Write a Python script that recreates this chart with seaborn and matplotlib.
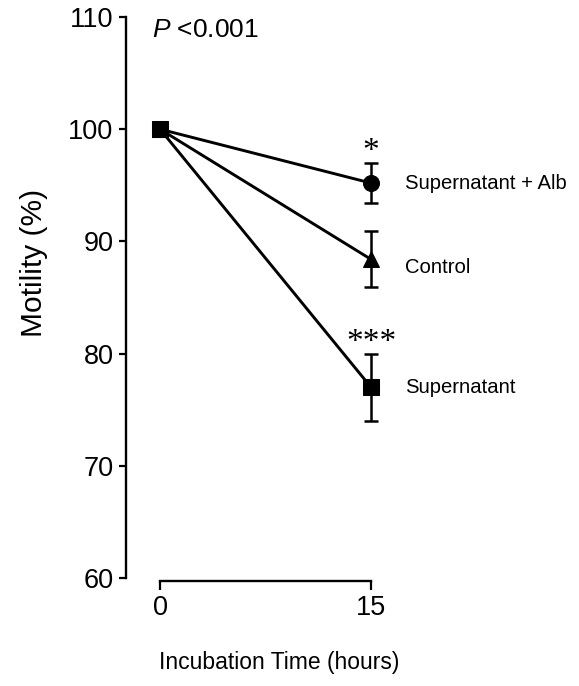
import pandas as pd
import matplotlib
matplotlib.use("Agg")
import matplotlib.pyplot as plt
import seaborn as sns

sns.set_theme(style="ticks")
plt.rcParams['font.family'] = ['Liberation Sans', 'DejaVu Sans']
plt.rcParams['mathtext.fontset'] = 'custom'
plt.rcParams['mathtext.rm'] = 'Liberation Sans'
plt.rcParams['mathtext.it'] = 'Liberation Sans:italic'
plt.rcParams['text.color'] = 'black'
plt.rcParams['xtick.color'] = 'black'
plt.rcParams['ytick.color'] = 'black'

# Dados
tempos = [0, 15]
grupos = ['Supernatant + Alb', 'Control', 'Supernatant']
motilidade_inicial = [100, 100, 100]
motilidade_15h = [95.2, 88.4, 77.0]
erro_15h = [1.8, 2.5, 3.0]
significancia = ['*', '', '***']
marcadores = ['o', '^', 's']
deslocamento_rotulo = [0.0, -0.7, 0.0]

linhas = []
for g, v0, v15 in zip(grupos, motilidade_inicial, motilidade_15h):
    linhas.append({'Grupo': g, 'Tempo': tempos[0], 'Motilidade': v0})
    linhas.append({'Grupo': g, 'Tempo': tempos[1], 'Motilidade': v15})
df = pd.DataFrame(linhas)

fig = plt.figure(figsize=(5.79, 6.86), dpi=100)
ax = fig.add_axes([126 / 579, 108 / 686, 274 / 579, 561 / 686])

sns.lineplot(data=df, x='Tempo', y='Motilidade', hue='Grupo', style='Grupo',
             palette=['black'] * 3, markers=marcadores, dashes=False,
             markersize=11.5, markeredgecolor='black', linewidth=2.1,
             legend=False, ax=ax, zorder=3)

# Barras de erro no tempo 15 h
ax.errorbar([tempos[1]] * 3, motilidade_15h, yerr=erro_15h, fmt='none',
            ecolor='black', elinewidth=1.8, capsize=5, capthick=1.8, zorder=2)

for g, v, e, s, d in zip(grupos, motilidade_15h, erro_15h, significancia, deslocamento_rotulo):
    ax.text(17.4, v + d, g, fontsize=14.6, ha='left', va='center', clip_on=False)
    if s:
        ax.text(tempos[1], v + e - 0.35, s, fontsize=24, ha='center', va='bottom',
                family='Liberation Serif')

ax.text(-0.57, 108.8, r'$\it{P}$ <0.001', fontsize=19, ha='left', va='center')

ax.set_xlim(-2.42, 17.06)
ax.set_ylim(60, 110)
ax.set_xticks(tempos)
ax.set_yticks([60, 70, 80, 90, 100, 110])
ax.tick_params(axis='y', direction='out', length=5, width=1.6, labelsize=19.5, pad=4)
ax.tick_params(axis='x', direction='out', length=6.5, width=1.6, labelsize=19.5, pad=3)

sns.despine(ax=ax)
ax.spines['left'].set_linewidth(1.7)
ax.spines['bottom'].set_linewidth(1.7)
ax.spines['left'].set_color('black')
ax.spines['bottom'].set_color('black')
ax.spines['bottom'].set_bounds(0, 15)
ax.spines['bottom'].set_position(('outward', 2.5))
ax.set_xlabel('')
ax.set_ylabel('')

fig.text(34 / 579, 1 - 263 / 686, 'Motility (%)', rotation=90, fontsize=21.5,
         ha='center', va='center')
fig.text(279 / 579, 1 - 663 / 686, 'Incubation Time (hours)', fontsize=16.5,
         ha='center', va='center')

fig.savefig('out.png', dpi=100)
